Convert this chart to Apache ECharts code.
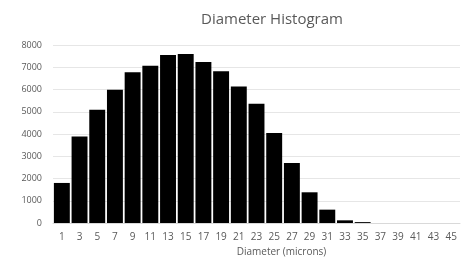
<!DOCTYPE html>
<html><head><meta charset="utf-8">
<script src="https://cdn.jsdelivr.net/npm/echarts@6/dist/echarts.min.js"></script>
<style>html,body{margin:0;padding:0;background:#fff}#c{width:469px;height:268px}</style>
</head><body><div id="c"></div>
<script>
const categories = ['1','3','5','7','9','11','13','15','17','19','21','23','25','27','29','31','33','35','37','39','41','43','45'];
const counts = [1800,3890,5090,5990,6770,7070,7550,7600,7240,6820,6140,5360,4050,2700,1380,600,120,40,0,0,0,0,0];
const yTicks = [0,1000,2000,3000,4000,5000,6000,7000,8000];
const chart = echarts.init(document.getElementById('c'));
const font = 'Open Sans';
chart.setOption({
  animation:false,
  title:{text:'Diameter Histogram',left:196,top:7,textStyle:{fontFamily:font,fontWeight:'normal',fontSize:15,color:'#595959'}},
  grid:{left:53,right:9,top:45,bottom:45},
  xAxis:{type:'category',data:categories,name:'Diameter (microns)',nameLocation:'middle',nameGap:23,
    nameTextStyle:{fontFamily:font,fontSize:10,color:'#595959',padding:[0,0,0,50]},
    axisLine:{lineStyle:{color:'#d9d9d9'}},axisTick:{show:false},
    axisLabel:{fontFamily:font,fontSize:10,color:'#595959',interval:0,margin:9}},
  yAxis:{type:'value',min:yTicks[0],max:yTicks[yTicks.length-1],interval:1000,
    axisLabel:{fontFamily:font,fontSize:9,color:'#595959',margin:11,formatter:v=>String(v)},
    splitLine:{lineStyle:{color:'#e6e6e6'}},axisLine:{show:false},axisTick:{show:false}},
  series:[{type:'bar',data:counts,barCategoryGap:'10%',itemStyle:{color:'#000'}}]
});
</script></body></html>
